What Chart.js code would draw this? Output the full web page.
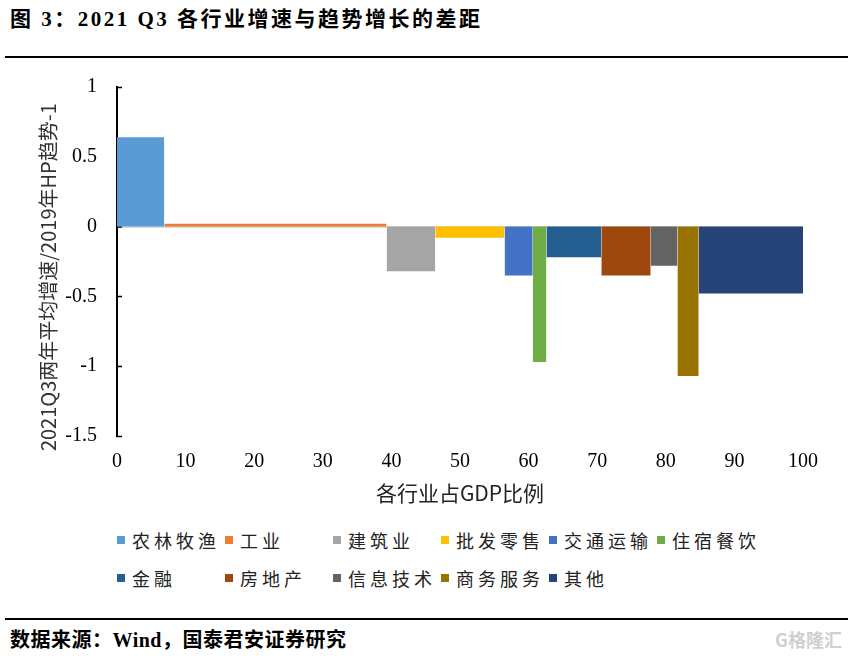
<!DOCTYPE html>
<html>
<head>
<meta charset="utf-8">
<script src="https://cdn.jsdelivr.net/npm/chart.js@4.4.1/dist/chart.umd.min.js"></script>
<style>
html,body{margin:0;padding:0;background:#fff;width:848px;height:661px;overflow:hidden;position:relative;}
#title{position:absolute;left:10px;top:2px;font:bold 21px "Liberation Serif","Noto Sans CJK SC",serif;color:#000;white-space:nowrap;letter-spacing:2.5px;}
.rule{position:absolute;left:5px;width:843px;height:2px;background:#000;}
#wrap{position:absolute;left:0;top:50px;width:848px;height:470px;}
#legend{position:absolute;left:117px;top:527px;display:grid;grid-template-columns:repeat(6,108px);row-gap:12px;}
.item{display:flex;align-items:center;height:26px;font:18px "Noto Sans CJK SC",sans-serif;letter-spacing:4px;color:#222;white-space:nowrap;}
.box{width:8px;height:8px;margin-right:7px;flex:none;}
#source{position:absolute;left:10px;top:624px;font:bold 20px "Liberation Serif","Noto Sans CJK SC",serif;color:#000;white-space:nowrap;letter-spacing:0.5px;}
#mark{position:absolute;right:6px;top:626px;font:bold 18px "Noto Sans CJK SC",sans-serif;color:#cfcfcf;white-space:nowrap;}
</style>
</head>
<body>
<div id="title">图 3：2021 Q3 各行业增速与趋势增长的差距</div>
<div class="rule" style="top:56px"></div>
<div id="wrap"><canvas id="c" width="848" height="470"></canvas></div>
<div id="legend"></div>
<div class="rule" style="top:618px"></div>
<div id="source">数据来源：Wind，国泰君安证券研究</div>
<div id="mark">G格隆汇</div>
<script>
const industries = ['农林牧渔','工业','建筑业','批发零售','交通运输','住宿餐饮','金融','房地产','信息技术','商务服务','其他'];
const gdpShares  = [6.9, 32.4, 7.1, 10.1, 4.1, 2.0, 8.0, 7.2, 3.9, 3.1, 15.2];
const growthGaps = [0.64, 0.02, -0.32, -0.08, -0.35, -0.97, -0.22, -0.35, -0.28, -1.07, -0.48];
const colors     = ['#5B9BD5','#ED7D31','#A5A5A5','#FFC000','#4472C4','#70AD47','#255E91','#9E480E','#636363','#997300','#264478'];
const xTicks = [0,10,20,30,40,50,60,70,80,90,100];
const yTicks = [-1.5,-1,-0.5,0,0.5,1];
const xTitle = '各行业占GDP比例';
const yTitle = '2021Q3两年平均增速/2019年HP趋势-1';

const datasets = [];
let start = 0;
industries.forEach((name, i) => {
  const end = start + gdpShares[i];
  const v = growthGaps[i];
  datasets.push({
    label: name,
    data: [{x:start,y:0},{x:start,y:v},{x:end,y:v},{x:end,y:0}],
    fill: 'origin',
    backgroundColor: colors[i],
    borderColor: 'transparent',
    borderWidth: 0,
    pointRadius: 0,
    pointHoverRadius: 0,
    tension: 0
  });
  start = end;
});

// HTML legend built from the same arrays
const lg = document.getElementById('legend');
industries.forEach((name, i) => {
  const it = document.createElement('div');
  it.className = 'item';
  const b = document.createElement('span');
  b.className = 'box';
  b.style.background = colors[i];
  const t = document.createElement('span');
  t.textContent = name;
  it.appendChild(b); it.appendChild(t);
  lg.appendChild(it);
});

new Chart(document.getElementById('c'), {
  type: 'line',
  data: { datasets },
  options: {
    responsive: false,
    animation: false,
    layout: { padding: { top: 0, right: 45, left: 0, bottom: 0 } },
    plugins: { legend: { display: false }, tooltip: { enabled: false } },
    scales: {
      x: {
        type: 'linear',
        min: 0, max: 100,
        afterBuildTicks: s => { s.ticks = xTicks.map(v => ({value: v})); },
        afterFit: s => { s.height = 84; },
        grid: { display: false, drawTicks: false },
        border: { display: false },
        ticks: {
          padding: 14,
          color: '#000',
          font: { family: '"Liberation Serif", serif', size: 20 },
          callback: v => String(v)
        },
        title: {
          display: true,
          text: xTitle,
          color: '#222',
          font: { family: '"Noto Sans CJK SC", sans-serif', size: 21 },
          padding: { top: 0, bottom: 14 }
        }
      },
      y: {
        min: -1.5, max: 1,
        afterBuildTicks: s => { s.ticks = yTicks.map(v => ({value: v})); },
        afterFit: s => { s.width = 117; },
        grid: {
          drawOnChartArea: true,
          color: c => (c.tick && c.tick.value === 0) ? '#d9d9d9' : 'rgba(0,0,0,0)',
          lineWidth: c => (c.tick && c.tick.value === 0) ? 2 : 1,
          tickColor: '#000',
          tickLength: -5,
          tickWidth: 1.5
        },
        border: { display: true, color: '#000', width: 2 },
        ticks: {
          padding: 25,
          color: '#000',
          font: { family: '"Liberation Serif", serif', size: 20 },
          callback: v => String(v)
        },
        title: {
          display: true,
          text: yTitle + '       ',
          color: '#333',
          font: { family: '"Noto Sans CJK SC", sans-serif', size: 20 },
          padding: { top: 36, bottom: 0 }
        }
      }
    }
  }
});
</script>
</body>
</html>
